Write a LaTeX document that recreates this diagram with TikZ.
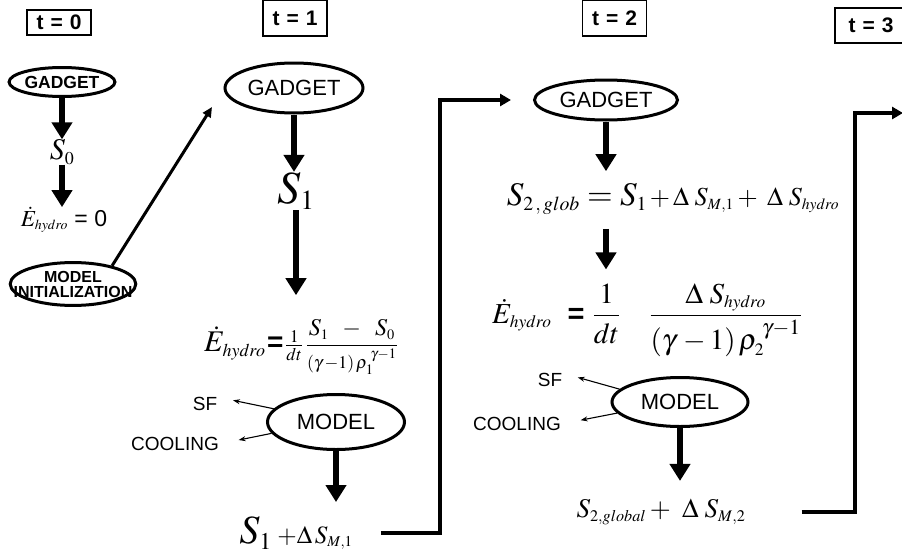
\documentclass[tikz,border=0pt]{standalone}
\usepackage{amsmath}
\usepackage{mathptmx}
\usepackage[no-math]{fontspec}
\setmainfont{Liberation Sans}
\usetikzlibrary{arrows.meta,shapes.geometric}
\newcommand{\fsz}[1]{\fontsize{#1}{#1}\selectfont}
\newcommand{\lo}[1]{_{\scriptscriptstyle #1}}

\begin{document}
\begin{tikzpicture}[x=1pt, y=-1pt,
    tbox/.style={draw, line width=1.3pt, inner sep=0pt, minimum width=64pt, minimum height=36pt, font=\fsz{21}\bfseries},
    oval/.style={ellipse, draw, line width=3pt, inner sep=0pt, font=\fsz{22}},
    txt/.style={inner sep=0pt},
    lab/.style={inner sep=0pt, font=\fsz{19}},
    bigarr/.style={-{Triangle[length=17pt,width=20pt]}, line width=6pt},
    link/.style={-{Triangle[length=11pt,width=12pt]}, line width=4pt},
    diag/.style={-{Triangle[length=10pt,width=9pt]}, line width=3pt},
    side/.style={-{Stealth[length=7pt,width=5pt]}, line width=1.1pt},
  ]
  \useasboundingbox (0,0) rectangle (902,554);

  % time steps
  \node[tbox, minimum height=25pt] (t0) at (59,22.5) {t\,\,=\,\,0};
  \node[tbox] (t1) at (295,18) {t\,\,=\,\,1};
  \node[tbox] (t2) at (614.5,18) {t\,\,=\,\,2};
  \node[tbox, minimum width=72pt, minimum height=35pt] (t3) at (871,25.5) {t\,\,=\,\,3};

  % t = 0
  \node[oval, font=\fsz{17.5}\bfseries, minimum width=101pt, minimum height=29pt] (g0) at (62,82) {GADGET};
  \node[txt, font=\fsz{30}] (s0) at (62,152) {$S\lo{0}$};
  \node[txt, font=\fsz{23}] (e0) at (64,220) {$\dot E\lo{hydro}$ = 0};
  \node[oval, font=\fsz{16}\bfseries, align=center, inner xsep=-15pt, inner ysep=2pt] (mi) at (73,284) {MODEL\\[-1pt]INITIALIZATION};
  \coordinate (g1in) at (212,107);

  \draw[bigarr] (g0) -- (g0 |- s0.north);
  \draw[bigarr] (s0) -- (s0 |- e0.north);
  \draw[diag] (mi.25) -- (g1in);

  % t = 1
  \node[oval, minimum width=138pt, minimum height=50pt] (g1) at (294,88) {GADGET};
  \node[txt, font=\fsz{46}] (s1) at (296,191) {$S\lo{1}$};
  \node[txt] (e1) at (301,347) {{\fsz{30}$\dot E\lo{hydro}$}\,{\fsz{28}\textbf{=}}\,{\fsz{24}$\tfrac{1}{dt}\,\dfrac{S\lo{1} \;\;-\;\; S\lo{0}}{\scriptstyle(\gamma\,-1)\,\rho\lo{1}^{\;\gamma-1}}$}};
  \node[oval, minimum width=137pt, minimum height=55pt] (m1) at (336,422) {MODEL};
  \node[lab] (sf1) at (205,404) {SF};
  \node[lab] (cool1) at (175,444) {COOLING};
  \node[txt] (s1m) at (296,533) {{\fsz{40}$S\lo{1}$}{\fsz{25}$\;+\Delta\,S\lo{M,1}$}};
  \coordinate (c1) at (440,100);

  \draw[bigarr] (g1) -- (g1 |- s1.north);
  \draw[bigarr, shorten >=24pt] (s1) -- (s1 |- e1.north);
  \draw[side, shorten >=16pt] (m1.168) -- (sf1.north east);
  \draw[side, shorten >=20pt] (m1.190) -- (cool1.east);
  \draw[bigarr, shorten >=14pt] (m1) -- (m1 |- s1m.north);

  % t = 2
  \node[oval, minimum width=143pt, minimum height=40pt] (g2) at (606,100) {GADGET};
  \node[txt] (s2g) at (673,199) {{\fsz{33}$S\lo{2\,,\,glob} = S\lo{1}$}{\fsz{26}$\,+\,\Delta\;S\lo{M,1}+\;\Delta\;S\lo{hydro}$}};
  \node[txt, font=\fsz{29}] (e2) at (647,320) {$\dot E\lo{hydro}$ \ \textbf{=} $\dfrac{1}{dt}\quad\dfrac{\Delta\;S\lo{hydro}}{(\gamma\,-1)\,\rho\lo{2}^{\;\gamma-1}}$};
  \node[oval, minimum width=136pt, minimum height=49pt] (m2) at (680,402) {MODEL};
  \node[lab] (sf2) at (550,380) {SF};
  \node[lab] (cool2) at (517,424) {COOLING};
  \node[txt, font=\fsz{27}] (s2m) at (661,512) {$S\lo{2,global} + \ \Delta\;S\lo{M,2}$};
  \coordinate (c2) at (855,113);
  \coordinate (t3in) at (903,113);

  \draw[link, shorten <=28pt, shorten >=22pt] (s1m.east) -| (c1) |- (g2.west);
  \draw[bigarr, shorten >=12pt] (g2) -- (g2 |- s2g.north);
  \draw[bigarr, shorten <=14pt, shorten >=14pt] (g2 |- s2g.south) -- (g2 |- e2.north);
  \draw[side, shorten >=16pt] (m2.168) -- (sf2.north east);
  \draw[side, shorten >=20pt] (m2.190) -- (cool2.east);
  \draw[bigarr, shorten >=18pt] (m2) -- (m2 |- s2m.north);
  \draw[link, shorten <=56pt] (s2m.east) -| (c2) |- (t3in);
\end{tikzpicture}
\end{document}
